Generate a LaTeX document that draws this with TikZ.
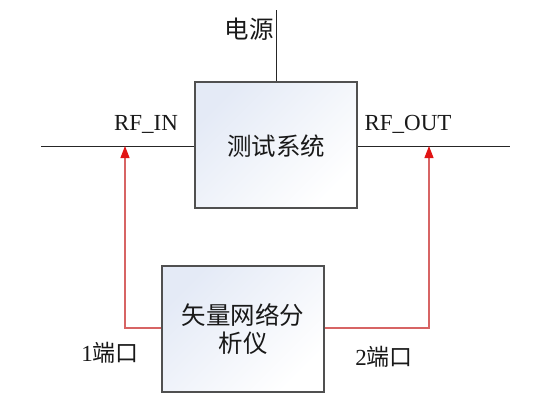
\documentclass[tikz,border=0pt]{standalone}
\usepackage{fontspec}
\setmainfont{Liberation Serif}
\newfontfamily\cjk{Noto Sans CJK SC}[Scale=1]
\usetikzlibrary{arrows.meta}
\definecolor{boxedge}{RGB}{80,80,80}
\definecolor{boxblue}{RGB}{228,234,246}
\definecolor{redline}{RGB}{215,100,100}
\definecolor{redtip}{RGB}{225,20,20}
\begin{document}
\begin{tikzpicture}[x=1pt,y=-1pt,
  blockbox/.style={draw=boxedge,line width=1.2pt,minimum width=162pt,minimum height=126pt,
     left color=boxblue,right color=white,shading angle=45,inner sep=0pt},
  wire/.style={draw=black!85,line width=0.9pt},
  rfwire/.style={draw=redline,line width=1.2pt},
  rftip/.style={-{Triangle[width=9pt,length=12pt,fill=redtip,color=redtip]}},
  cjktxt/.style={font=\cjk\fontsize{24.5}{28}\selectfont,text=black!90},
  lattxt/.style={font=\fontsize{23}{26}\selectfont,text=black!90}]
\useasboundingbox (0,0) rectangle (547,400);
\node[blockbox] (sys) at (276,145) {};
\node[cjktxt] (systxt) at (276,146) {测试系统};
\node[blockbox] (vna) at (243,329) {};
\node[cjktxt,align=center] (vnatxt) at (243,329) {矢量网络分\\[0pt]析仪};
\coordinate (pwr) at (276,10);
\coordinate (inL) at (41,146);
\coordinate (outR) at (510,146);
\coordinate (inJ) at (125,146);
\coordinate (outJ) at (429,146);
\coordinate (p1) at (125,328);
\coordinate (p2) at (429,328);
\draw[wire] (pwr) -- (sys.north);
\draw[wire] (inL) -- (sys.west |- inL);
\draw[wire] (sys.east |- outR) -- (outR);
\draw[rfwire,rftip] (vna.west |- p1) -- (p1) -- (inJ);
\draw[rfwire,rftip] (vna.east |- p2) -- (p2) -- (outJ);
\node[cjktxt] (pwrlbl) at (249,29) {电源};
\node[lattxt] (rfin) at (146,124) {RF\_IN};
\node[lattxt] (rfout) at (408,124) {RF\_OUT};
\node[lattxt] (port1) at (110,353) {1{\cjk 端口}};
\node[lattxt] (port2) at (384,357) {2{\cjk 端口}};
\end{tikzpicture}
\end{document}
